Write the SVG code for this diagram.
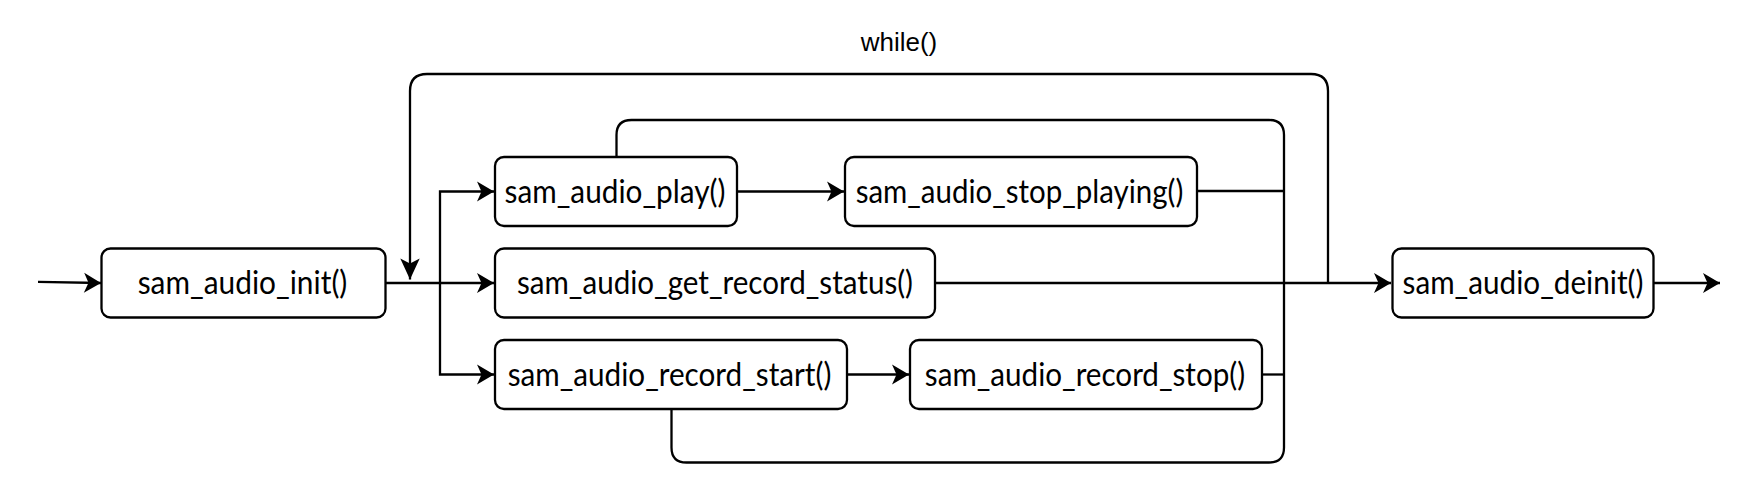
<svg xmlns="http://www.w3.org/2000/svg" width="1762" height="490" viewBox="0 0 1762 490">
<style>
.node rect{fill:#fff;stroke:#000;stroke-width:2.3}
.node text{font-family:Lato,"Open Sans","DejaVu Sans",sans-serif;font-size:32px;fill:#000;text-anchor:middle}
.conn path{fill:none;stroke:#000;stroke-width:2.3}
.lbl{font-family:"Liberation Sans",Arial,sans-serif;font-size:25px;fill:#000;text-anchor:middle}
</style>
<defs>
<marker id="arr" markerUnits="userSpaceOnUse" markerWidth="20" markerHeight="22" viewBox="-18 -11 20 22" refX="0" refY="0" orient="auto">
<path d="M0,0 L-17,-10 L-12.5,0 L-17,10 Z" fill="#000"/>
</marker>
<marker id="arrV" markerUnits="userSpaceOnUse" markerWidth="24" markerHeight="22" viewBox="-22 -11 24 22" refX="0" refY="0" orient="auto">
<path d="M0,0 L-21,-9.7 L-16,0 L-21,9.7 Z" fill="#000"/>
</marker>
</defs>
<rect width="1762" height="490" fill="#fff"/>
<g id="connectors" class="conn">
<path d="M38,281.8 L101,283" marker-end="url(#arr)"/>
<path d="M385.5,283 H494" marker-end="url(#arr)"/>
<path d="M440,283 V191.5 H494" marker-end="url(#arr)"/>
<path d="M440,283 V374.5 H494" marker-end="url(#arr)"/>
<path d="M737,191.5 H844" marker-end="url(#arr)"/>
<path d="M847,374.5 H909" marker-end="url(#arr)"/>
<path d="M935,283 H1391" marker-end="url(#arr)"/>
<path d="M1654,283 H1720" marker-end="url(#arr)"/>
<path d="M1197,191 H1284"/>
<path d="M1262,374.5 H1284"/>
<path d="M616.5,157 V135 Q616.5,120 631.5,120 H1269 Q1284,120 1284,135 V447.5 Q1284,462.5 1269,462.5 H686.5 Q671.5,462.5 671.5,447.5 V409"/>
<path d="M1328,283 V91 Q1328,74 1311,74 H427 Q410,74 410,91 V279.5" marker-end="url(#arrV)"/>
<text class="lbl" x="899" y="51" textLength="76.5" lengthAdjust="spacingAndGlyphs">while()</text>
</g>
<g id="init" class="node">
<rect x="101.5" y="248.5" width="284" height="69" rx="9"/>
<text x="242.5" y="294" textLength="209.7" lengthAdjust="spacingAndGlyphs">sam_audio_init()</text>
</g>
<g id="play" class="node">
<rect x="495" y="157" width="242" height="69" rx="9"/>
<text x="615" y="202.5" textLength="220.9" lengthAdjust="spacingAndGlyphs">sam_audio_play()</text>
</g>
<g id="stop_playing" class="node">
<rect x="845" y="157" width="352" height="69" rx="9"/>
<text x="1019.5" y="202.5" textLength="327.7" lengthAdjust="spacingAndGlyphs">sam_audio_stop_playing()</text>
</g>
<g id="get_record_status" class="node">
<rect x="495" y="248.5" width="440" height="69" rx="9"/>
<text x="715" y="294" textLength="396" lengthAdjust="spacingAndGlyphs">sam_audio_get_record_status()</text>
</g>
<g id="record_start" class="node">
<rect x="495" y="340" width="352" height="69" rx="9"/>
<text x="669.5" y="385.5" textLength="323.7" lengthAdjust="spacingAndGlyphs">sam_audio_record_start()</text>
</g>
<g id="record_stop" class="node">
<rect x="910" y="340" width="352" height="69" rx="9"/>
<text x="1085" y="385.5" textLength="320.3" lengthAdjust="spacingAndGlyphs">sam_audio_record_stop()</text>
</g>
<g id="deinit" class="node">
<rect x="1392.5" y="248.5" width="261" height="69" rx="9"/>
<text x="1523" y="294" textLength="240.9" lengthAdjust="spacingAndGlyphs">sam_audio_deinit()</text>
</g>
</svg>
